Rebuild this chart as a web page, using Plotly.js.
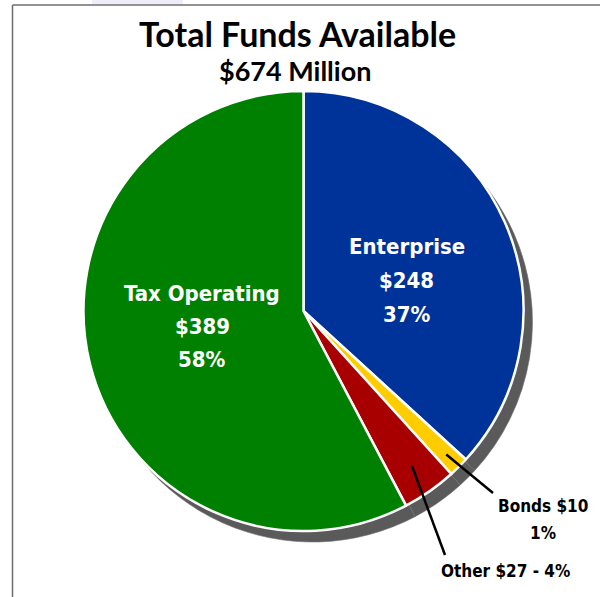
<!DOCTYPE html>
<html>
<head>
<meta charset="utf-8">
<script src="https://cdn.plot.ly/plotly-3.0.1.min.js"></script>
<style>html,body{margin:0;padding:0;background:#fff;}#chart{width:600px;height:597px;}</style>
</head>
<body>
<div id="chart"></div>
<script>
// ---- data ----
const categories = ['Enterprise', 'Bonds', 'Other', 'Tax Operating'];
const values = [248, 10, 27, 389];
const totalMillions = 674;
const titleText = 'Total Funds Available';

// ---- styles ----
const sliceColors = ['#00339A', '#FFCC00', '#A80000', '#008000'];
const shadowColor = '#5A5A5A';
const condensed = '"DejaVu Sans Condensed", "Liberation Sans Narrow", sans-serif';
const titleFont = 'Lato, "Open Sans", sans-serif';

const W = 600, H = 597;
const R = 220;
const cx = 303.5, cy = 311;      // pie centre (px from top-left)
const sdx = 9, sdy = 11;          // shadow offset

function dom(cxp, cyp) {
  return {
    x: [(cxp - R) / W, (cxp + R) / W],
    y: [1 - (cyp + R) / H, 1 - (cyp - R) / H]
  };
}
const px = x => x / W;
const py = y => 1 - y / H;

const total = values.reduce((a, b) => a + b, 0);
const pct = values.map(v => Math.round(v / total * 100) + '%');
const money = values.map(v => '$' + v);

// mid-angle (deg clockwise from 12 o'clock) of each slice
const mids = [];
let acc = 0;
values.forEach(v => { mids.push((acc + v / 2) / total * 360); acc += v; });
function slicePoint(i, frac) {
  const a = mids[i] * Math.PI / 180;
  return [cx + frac * R * Math.sin(a), cy - frac * R * Math.cos(a)];
}

const shadow = {
  type: 'pie', values: values, labels: categories.map(c => c + ' shadow'),
  sort: false, direction: 'clockwise', rotation: 0,
  marker: { colors: values.map(() => shadowColor), line: { color: '#707070', width: 0.6 } },
  textinfo: 'none', hoverinfo: 'skip', showlegend: false,
  domain: dom(cx + sdx, cy + sdy)
};
const pie = {
  type: 'pie', values: values, labels: categories,
  sort: false, direction: 'clockwise', rotation: 0,
  marker: { colors: sliceColors, line: { color: '#FFFFFF', width: 2.5 } },
  textinfo: 'none', showlegend: false,
  domain: dom(cx, cy)
};

const white = { family: condensed, size: 22, color: '#FFFFFF', weight: 'bold' };
const black = { family: condensed, size: 17, color: '#000000', weight: 'bold' };

function ann(x, y, text, font) {
  return { xref: 'paper', yref: 'paper', x: px(x), y: py(y), xanchor: 'center', yanchor: 'middle',
           text: text, showarrow: false, font: font };
}

const annotations = [
  ann(297.5, 34, titleText, { family: titleFont, size: 34, color: '#000', weight: 'bold' }),
  ann(295, 70, '$' + totalMillions + ' Million', { family: titleFont, size: 27, color: '#000', weight: 'bold' }),
  ann(406.5, 246, categories[0], white),
  ann(406.5, 280, money[0], white),
  ann(406.5, 314, pct[0], white),
  ann(202, 293, categories[3], white),
  ann(202, 326, money[3], white),
  ann(202, 360, pct[3], white),
  ann(543, 506, categories[1] + ' ' + money[1], black),
  ann(543, 533, pct[1], black),
  ann(505, 571, categories[2] + ' ' + money[2] + ' - ' + pct[2], black)
];

const tipB = slicePoint(1, 0.92);
const tipO = slicePoint(2, 0.86);
const shapes = [
  { type: 'line', xref: 'paper', yref: 'paper', x0: px(tipB[0]), y0: py(tipB[1]), x1: px(493), y1: py(493),
    line: { color: '#000', width: 2.5 } },
  { type: 'line', xref: 'paper', yref: 'paper', x0: px(tipO[0]), y0: py(tipO[1]), x1: px(445), y1: py(555),
    line: { color: '#000', width: 2.5 } },
  { type: 'rect', xref: 'paper', yref: 'paper', x0: px(92), x1: px(183), y0: py(4), y1: py(0),
    fillcolor: '#EEEEFA', line: { width: 0 }, layer: 'below' },
  { type: 'line', xref: 'paper', yref: 'paper', x0: px(12.5), y0: py(5), x1: px(600), y1: py(5),
    line: { color: '#6E6E6E', width: 1.5 } },
  { type: 'line', xref: 'paper', yref: 'paper', x0: px(12.5), y0: py(5), x1: px(12.5), y1: py(597),
    line: { color: '#6E6E6E', width: 1.5 } }
];

const layout = {
  width: W, height: H,
  margin: { l: 0, r: 0, t: 0, b: 0 },
  paper_bgcolor: '#FFFFFF',
  showlegend: false,
  annotations: annotations,
  shapes: shapes
};

Plotly.newPlot('chart', [shadow, pie], layout, { displayModeBar: false, staticPlot: true });
</script>
</body>
</html>
